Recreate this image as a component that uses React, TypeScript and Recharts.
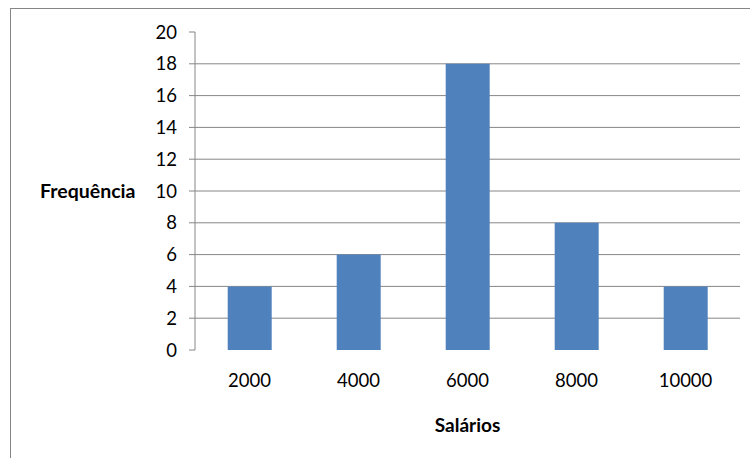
import { Bar, BarChart, CartesianGrid, XAxis, YAxis } from "recharts";

const salarios = ["2000", "4000", "6000", "8000", "10000"];
const frequencias = [4, 6, 18, 8, 4];
const yTicks = [0, 2, 4, 6, 8, 10, 12, 14, 16, 18, 20];
const gridValues = [2, 4, 6, 8, 10, 12, 14, 16, 18];
const boundaryTicks = [0, 1, 2, 3, 4, 5];

const data = salarios.map((s, i) => ({ salario: s, freq: frequencias[i], pos: i + 0.5 }));

const FONT = "Lato, 'Open Sans', sans-serif";
const GRAY = "#868686";

export default function App() {
  return (
    <div style={{ position: "absolute", left: 0, top: 0, width: 750, height: 458, background: "#fff", overflow: "hidden", fontFamily: FONT }}>
      <div
        style={{
          position: "absolute",
          left: 10,
          top: 8,
          width: 760,
          height: 470,
          border: `1.5px solid ${GRAY}`,
        }}
      />
      <BarChart
        width={750}
        height={458}
        data={data}
        margin={{ top: 32, right: 10, left: 0, bottom: 18 }}
        barCategoryGap="30%"
        style={{ position: "absolute", left: 0, top: 0 }}
      >
        <CartesianGrid vertical={false} stroke={GRAY} horizontalValues={gridValues} />
        <XAxis
          xAxisId="edges"
          type="number"
          dataKey="pos"
          domain={[0, 5]}
          ticks={boundaryTicks}
          height={0}
          stroke={GRAY}
          tickSize={6}
          tickFormatter={() => ""}
        />
        <XAxis
          dataKey="salario"
          height={90}
          axisLine={false}
          tickLine={false}
          tickMargin={18}
          tick={{ fill: "#000", fontSize: 18.5, fontFamily: FONT }}
          label={{
            value: "Salários",
            position: "insideBottom",
            offset: 8,
            fill: "#000",
            fontSize: 19,
            fontWeight: "bold",
            fontFamily: FONT,
          }}
        />
        <YAxis
          width={195}
          domain={[0, 20]}
          ticks={yTicks}
          interval={0}
          stroke={GRAY}
          tickSize={6}
          tickMargin={12}
          tick={{ fill: "#000", fontSize: 18.5, fontFamily: FONT }}
          label={{
            value: "Frequência",
            position: "insideLeft",
            offset: 40,
            fill: "#000",
            fontSize: 19.5,
            fontWeight: "bold",
            fontFamily: FONT,
          }}
        />
        <Bar dataKey="freq" fill="#4F81BD" isAnimationActive={false} />
      </BarChart>
    </div>
  );
}
